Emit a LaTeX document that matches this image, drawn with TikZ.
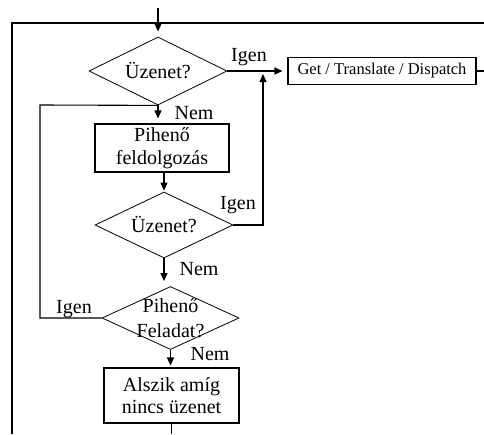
\documentclass[tikz,border=0pt]{standalone}
\usepackage{fontspec}
\setmainfont{Liberation Serif}
\usetikzlibrary{shapes.geometric,arrows.meta}
\begin{document}
\begin{tikzpicture}[x=1pt,y=-1pt,
  line width=1.1pt,
  every node/.style={font=\fontsize{20}{24}\selectfont},
  decision/.style={diamond,draw,line width=0.8pt,inner sep=0pt,minimum width=#1,minimum height=66pt},
  procbox/.style={rectangle,draw,inner sep=0pt,align=center},
  arr/.style={-{Triangle[length=8pt,width=7pt]},shorten >=5pt},
  lbl/.style={inner sep=0pt}]
\useasboundingbox (0,0) rectangle (484,434);

% decisions and process boxes
\node[decision=138pt,minimum height=68pt] (d1) at (158,71) {};
\node at (d1) {Üzenet?};
\node[procbox,minimum width=188pt,minimum height=27pt,font=\fontsize{16.5}{20}\selectfont] (g) at (382,71) {Get / Translate / Dispatch};
\node[procbox,minimum width=134pt,minimum height=48pt] (b2) at (162,148) {Pihenő\\[-1pt]feldolgozás};
\node[decision=138pt] (d2) at (164,225) {};
\node at (d2) {Üzenet?};
\node[decision=137pt,minimum height=63pt] (d3) at (170.5,318) {};
\node[align=center] at (d3) {Pihenő\\[1pt]Feladat?};
\node[procbox,minimum width=135pt,minimum height=55pt] (b3) at (171.5,395.5) {Alszik amíg\\[-2pt]nincs üzenet};

% free ends of the connectors
\coordinate (top) at (158,8);
\coordinate (otl) at (12,23);
\coordinate (otr) at (484,23);
\coordinate (obl) at (12,434);
\coordinate (gout) at (484,71);
\coordinate (ux) at (263,71);
\coordinate (lj) at (40,105);
\coordinate (bot) at (171.5,434);

% outer loop and entry
\draw (obl) -- (otl) -- (otr);
\draw[arr] (top) -- (d1.north);
\draw (g.east) -- (gout);

% main flow
\draw[arr] (d1.east) -- (g.west);
\draw[arr] (d1.south) -- (d1.south |- b2.north);
\draw[arr,shorten >=1pt] (b2.south -| d2.north) -- (d2.north);
\draw[arr] (d2.south) -- (d2.south |- d3.north);
\draw[arr,shorten >=2pt] (d3.south) -- (d3.south |- b3.north);
\draw (b3.south) -- (bot);

% side branches
\draw[arr,shorten >=3pt] (d2.east) -- (d2.east -| ux) -- (ux);
\draw (d3.west) -- (d3.west -| lj) -- (lj) -- (d1.south);

% branch labels
\node[lbl] at (249,57) {Igen};
\node[lbl] at (194,113) {Nem};
\node[lbl] at (238,205) {Igen};
\node[lbl] at (199,269) {Nem};
\node[lbl] at (74,309) {Igen};
\node[lbl] at (210,354) {Nem};
\end{tikzpicture}
\end{document}
